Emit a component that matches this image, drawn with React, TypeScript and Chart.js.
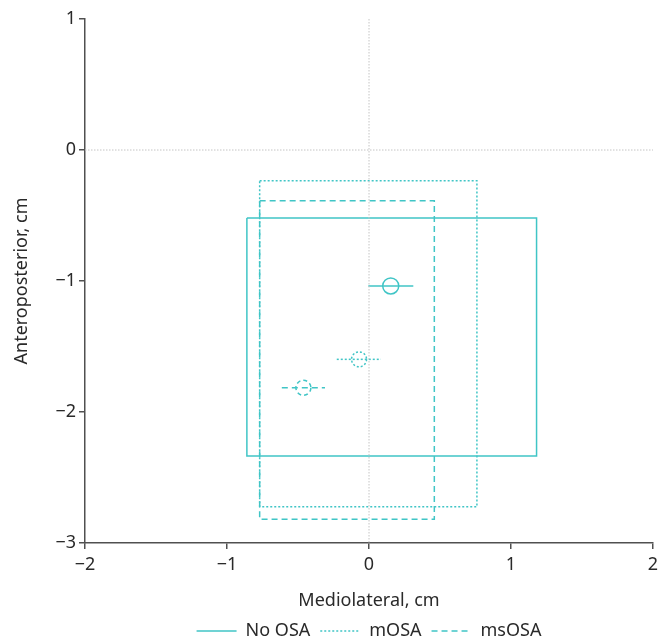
import React, { useEffect, useRef } from 'react';
import { Chart, registerables } from 'chart.js';

Chart.register(...registerables);

// ---- data ----
const groupNames = ['No OSA', 'mOSA', 'msOSA'];
// 95% area rectangles (cm)
const rectLeft = [-0.86, -0.77, -0.77];
const rectRight = [1.18, 0.76, 0.46];
const rectTop = [-0.52, -0.234, -0.387];
const rectBottom = [-2.336, -2.723, -2.819];
// mean points and horizontal error bars (cm)
const meanX = [0.153, -0.07, -0.462];
const meanY = [-1.038, -1.598, -1.815];
const errLow = [-0.005, -0.227, -0.614];
const errHigh = [0.312, 0.084, -0.31];
// axes
const xTickValues = [-2, -1, 0, 1, 2];
const yTickValues = [-3, -2, -1, 0, 1];

const TEAL = '#40c5c6';
const REF_GREY = '#c4c4c4';
const AXIS = '#505050';
const TEXT = '#2a2a2a';
const FONT = '"Noto Sans", "Open Sans", sans-serif';
const FS = 18;
const groupDash: number[][] = [[], [2, 2], [6, 4]];
const circleDash: number[][] = [[], [2, 2], [4, 3]];

const fmt = (v: number | string) => {
  const n = Number(v);
  return n < 0 ? '\u2212' + Math.abs(n) : String(n);
};

const pointDashPlugin = {
  id: 'pointDash',
  beforeDatasetDraw(chart: any, args: any) {
    const ds = chart.data.datasets[args.index];
    if (ds && ds.pointDash) {
      chart.ctx.save();
      chart.ctx.setLineDash(ds.pointDash);
    }
  },
  afterDatasetDraw(chart: any, args: any) {
    const ds = chart.data.datasets[args.index];
    if (ds && ds.pointDash) {
      chart.ctx.restore();
    }
  },
};

export default function App() {
  const ref = useRef<HTMLCanvasElement | null>(null);

  useEffect(() => {
    if (!ref.current) return;
    const datasets: any[] = [];
    // reference lines at 0
    datasets.push({
      label: 'refV',
      data: [{ x: 0, y: yTickValues[yTickValues.length - 1] }, { x: 0, y: yTickValues[0] }],
      showLine: true,
      borderColor: REF_GREY,
      borderWidth: 1,
      borderDash: [1.5, 1.5],
      pointRadius: 0,
    });
    datasets.push({
      label: 'refH',
      data: [{ x: xTickValues[0], y: 0 }, { x: xTickValues[xTickValues.length - 1], y: 0 }],
      showLine: true,
      borderColor: REF_GREY,
      borderWidth: 1,
      borderDash: [1.5, 1.5],
      pointRadius: 0,
    });
    groupNames.forEach((name, i) => {
      datasets.push({
        label: name + ' area',
        data: [
          { x: rectLeft[i], y: rectTop[i] },
          { x: rectRight[i], y: rectTop[i] },
          { x: rectRight[i], y: rectBottom[i] },
          { x: rectLeft[i], y: rectBottom[i] },
          { x: rectLeft[i], y: rectTop[i] },
        ],
        showLine: true,
        borderColor: TEAL,
        borderWidth: 1.5,
        borderDash: groupDash[i],
        borderJoinStyle: 'miter',
        pointRadius: 0,
        tension: 0,
      });
    });
    groupNames.forEach((name, i) => {
      datasets.push({
        label: name + ' err',
        data: [
          { x: errLow[i], y: meanY[i] },
          { x: errHigh[i], y: meanY[i] },
        ],
        showLine: true,
        borderColor: TEAL,
        borderWidth: 1.5,
        borderDash: groupDash[i],
        pointRadius: 0,
      });
    });
    groupNames.forEach((name, i) => {
      datasets.push({
        label: name,
        data: [{ x: meanX[i], y: meanY[i] }],
        showLine: false,
        pointRadius: i === 0 ? 8 : 7.5,
        pointBorderWidth: 1.5,
        pointBorderColor: TEAL,
        pointBackgroundColor: '#ffffff',
        pointDash: circleDash[i].length ? circleDash[i] : undefined,
      });
    });

    const chart = new Chart(ref.current, {
      type: 'scatter',
      data: { datasets },
      plugins: [pointDashPlugin],
      options: {
        responsive: false,
        animation: false,
        layout: { padding: { left: 0, right: 15, top: 19, bottom: 0 } },
        plugins: {
          tooltip: { enabled: false },
          legend: {
            position: 'bottom',
            fullSize: false,
            maxHeight: 29,
            onClick: () => {},
            labels: {
              usePointStyle: true,
              pointStyleWidth: 40,
              padding: 10,
              color: TEXT,
              font: { size: FS, family: FONT },
              generateLabels: () =>
                groupNames.map((n, i) => ({
                  text: n,
                  strokeStyle: TEAL,
                  fillStyle: TEAL,
                  lineWidth: 1.5,
                  lineDash: groupDash[i],
                  pointStyle: 'line',
                  hidden: false,
                  fontColor: TEXT,
                })),
            },
          },
        },
        scales: {
          x: {
            type: 'linear',
            min: xTickValues[0],
            max: xTickValues[xTickValues.length - 1],
            afterBuildTicks: (s: any) => {
              s.ticks = xTickValues.map((v) => ({ value: v }));
            },
            afterFit: (s: any) => {
              s.height = 69;
            },
            ticks: {
              callback: fmt,
              color: TEXT,
              padding: 5,
              font: { size: FS, family: FONT },
              maxRotation: 0,
            },
            grid: {
              drawOnChartArea: false,
              drawTicks: true,
              tickLength: 6,
              color: AXIS,
              lineWidth: 1.5,
            },
            border: { color: AXIS, width: 1.5 },
            title: {
              display: true,
              text: 'Mediolateral, cm',
              color: TEXT,
              font: { size: FS, family: FONT },
              padding: { top: 0, bottom: 0 },
            },
          },
          y: {
            type: 'linear',
            min: yTickValues[0],
            max: yTickValues[yTickValues.length - 1],
            afterBuildTicks: (s: any) => {
              s.ticks = yTickValues.map((v) => ({ value: v }));
            },
            afterFit: (s: any) => {
              s.width = 85;
            },
            ticks: {
              callback: fmt,
              color: TEXT,
              padding: 3,
              font: { size: FS, family: FONT },
            },
            grid: {
              drawOnChartArea: false,
              drawTicks: true,
              tickLength: 6,
              color: AXIS,
              lineWidth: 1.5,
            },
            border: { color: AXIS, width: 1.5 },
            title: {
              display: true,
              text: 'Anteroposterior, cm',
              color: TEXT,
              font: { size: FS, family: FONT },
              padding: { top: 11, bottom: 0 },
            },
          },
        },
      } as any,
    });
    return () => chart.destroy();
  }, []);

  return (
    <div style={{ position: 'fixed', left: 0, top: 0, width: 668, height: 641, background: '#fff' }}>
      <canvas ref={ref} width={668} height={641} style={{ display: 'block', width: 668, height: 641 }} />
    </div>
  );
}
